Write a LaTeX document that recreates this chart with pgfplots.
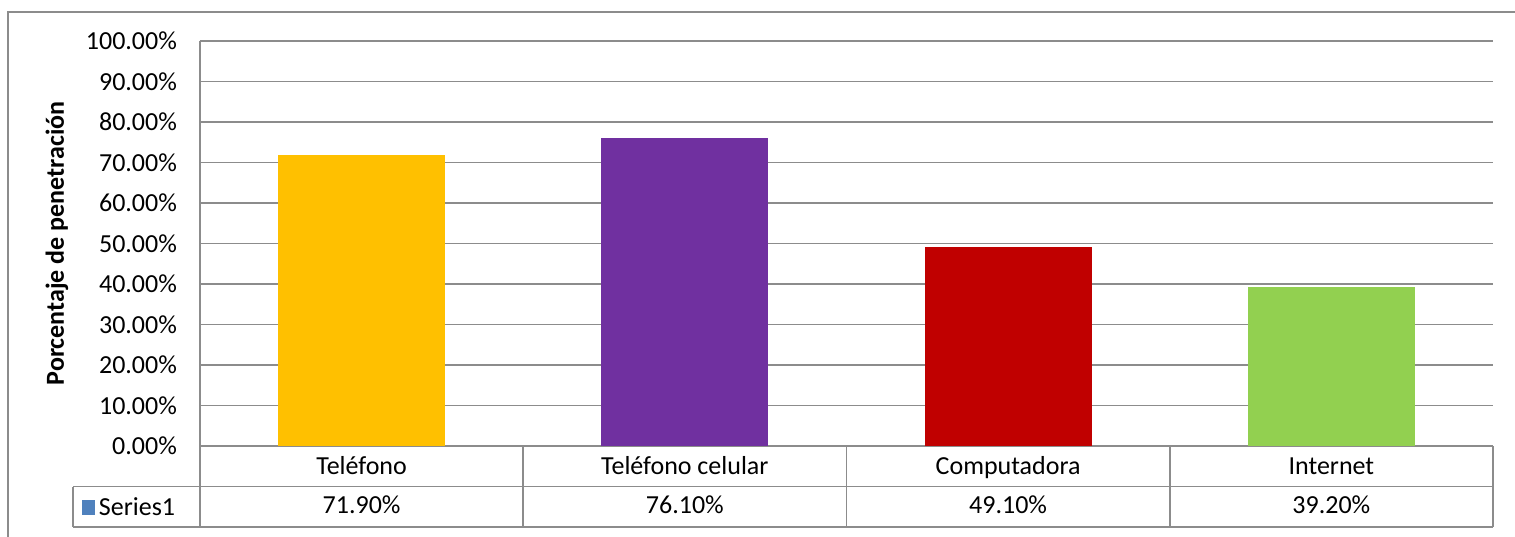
\documentclass[border=0pt]{standalone}
\usepackage{fontspec}
\setmainfont{Carlito}
\usepackage{pgfplots}
\pgfplotsset{compat=1.18}
\usepackage{pgfplotstable}

\definecolor{cTel}{HTML}{FFC000}
\definecolor{cCel}{HTML}{7030A0}
\definecolor{cCom}{HTML}{C00000}
\definecolor{cInt}{HTML}{92D050}
\definecolor{keyblue}{HTML}{4F81BD}
\definecolor{gridgray}{HTML}{8C8C8C}

% penetration of each technology, percent
\pgfplotstableread{
idx val
0 71.9
1 76.1
2 49.1
3 39.2
}\datatable

\begin{document}
\begin{tikzpicture}[font=\fontsize{13pt}{15pt}\selectfont]
\useasboundingbox (-100pt,-45pt) rectangle (657.5pt,223pt);
\begin{axis}[
  scale only axis,
  width=646.5pt, height=202.5pt,
  xmin=-0.5, xmax=3.5,
  ymin=0, ymax=100,
  clip=false,
  axis line style={draw=none},
  tick style={draw=none},
  ytick={0,10,...,100},
  ymajorgrids,
  grid style={gridgray, line width=0.8pt},
  /pgf/number format/assume math mode=true,
  yticklabel={\pgfmathprintnumber[fixed,fixed zerofill,precision=2]{\tick}\%},
  yticklabel style={xshift=-8pt},
  xtick={0,1,2,3},
  xticklabels={Teléfono, Teléfono celular, Computadora, Internet},
  xticklabel style={anchor=center, yshift=-6.5pt, text height=9pt, text depth=2.5pt},
  ylabel={\bfseries Porcentaje de penetración},
  ylabel style={at={(axis description cs:-0.1106,0.5)}, anchor=center},
  ybar, bar width=0.516, bar shift=0pt,
]
\addplot[fill=cTel, draw=none, restrict x to domain=-0.1:0.1] table[x=idx, y=val] {\datatable};
\addplot[fill=cCel, draw=none, restrict x to domain=0.9:1.1] table[x=idx, y=val] {\datatable};
\addplot[fill=cCom, draw=none, restrict x to domain=1.9:2.1] table[x=idx, y=val] {\datatable};
\addplot[fill=cInt, draw=none, restrict x to domain=2.9:3.1] table[x=idx, y=val] {\datatable};

% value row of the data table
\addplot[draw=none, fill=none, mark=none, bar width=0,
  point meta=\thisrow{val},
  nodes near coords={\pgfmathprintnumber[fixed,fixed zerofill,precision=2]{\pgfplotspointmeta}\%},
  nodes near coords align=center,
  every node near coord/.append style={anchor=center, yshift=0pt, black, text height=9pt, text depth=2.5pt}]
  table[x=idx, y expr=-15] {\datatable};

% data table frame
\draw[gridgray, line width=0.8pt]
  (axis cs:-0.5,100) -- (axis cs:-0.5,-20)
  (axis cs:-0.892,-10) -- (axis cs:3.5,-10)
  (axis cs:-0.892,-20) -- (axis cs:3.5,-20)
  (axis cs:-0.892,-10) -- (axis cs:-0.892,-20)
  (axis cs:0.5,0) -- (axis cs:0.5,-20)
  (axis cs:1.5,0) -- (axis cs:1.5,-20)
  (axis cs:2.5,0) -- (axis cs:2.5,-20)
  (axis cs:3.5,0) -- (axis cs:3.5,-20);
\node[anchor=west, inner sep=0pt] at (axis cs:-0.8676,-15)
  {\textcolor{keyblue}{\rule[0.5pt]{6.5pt}{7.5pt}}\,Series1};
\end{axis}
% chart area border
\draw[gridgray, line width=1pt] (-96pt,-50pt) -- (-96pt,217pt) -- (670pt,217pt);
\end{tikzpicture}
\end{document}
